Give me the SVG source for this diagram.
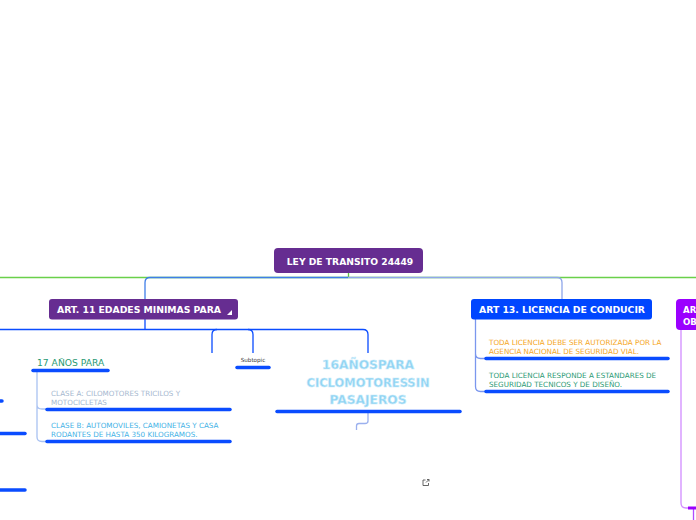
<svg xmlns="http://www.w3.org/2000/svg" width="696" height="520" viewBox="0 0 696 520">
<style>
.node{font-family:"DejaVu Sans",Verdana,sans-serif;font-weight:bold;fill:#fff}
.t{font-family:"DejaVu Sans",Verdana,sans-serif}
.bar{stroke:#0a4cff;stroke-width:3.5;stroke-linecap:round;fill:none}
.ln{fill:none;stroke-width:1.3}
</style>
<rect width="696" height="520" fill="#fff"/>
<g id="connectors">
  <path class="ln" d="M0 277.5 H696" stroke="#6ad04a"/>
  <path class="ln" d="M348.5 273 V277.5" stroke="#5cbf40"/>
  <path class="ln" d="M348 277.5 H150 Q145 277.5 145 282.5 V299" stroke="#3f7ee8"/>
  <path class="ln" d="M348 277.5 H557 Q562 277.5 562 282.5 V299" stroke="#8fa7ea"/>
  <path class="ln" d="M145 319 V329.5" stroke="#0a4cff" stroke-width="2"/>
  <path class="ln" d="M0 329.5 H363 Q368 329.5 368 334.5 V353" stroke="#0a4cff"/>
  <path class="ln" d="M217 329.5 Q212 329.5 212 334.5 V353" stroke="#0a4cff"/>
  <path class="ln" d="M248 329.5 Q253 329.5 253 334.5 V353" stroke="#0a4cff"/>
  <path class="ln" d="M37 372 V437 Q37 441.5 42 441.5 H47 M37 405 Q37 409 42 409 H47" stroke="#a9c2f2"/>
  <path class="ln" d="M475.5 319 V353.5 Q475.5 358.5 480.5 358.5 H486 M475.5 353 V386.5 Q475.5 391.5 480.5 391.5 H486" stroke="#7b97ee"/>
  <path class="ln" d="M368 412 V421 Q368 423.5 365 423.5 H359 Q356.5 423.5 356.5 426 V430" stroke="#9bb0ee"/>
  <path class="ln" d="M681 330 V503 Q681 508 686 508 H690" stroke="#d28cff"/>
  <path class="ln" d="M693.5 508 V520" stroke="#b04cff"/>
  <path d="M688 508 H696" stroke="#9b00ff" stroke-width="3"/>
</g>
<g id="root">
  <rect x="274" y="248" width="149" height="25" rx="4" fill="#662d91"/>
  <text class="node" x="350" y="264.5" font-size="9.2" text-anchor="middle">LEY DE TRANSITO 24449</text>
</g>
<g id="art11">
  <rect x="49" y="299" width="189" height="20.5" rx="3" fill="#662d91"/>
  <text class="node" x="57" y="313" font-size="9.3" textLength="164" lengthAdjust="spacing">ART. 11 EDADES MINIMAS PARA</text>
  <path d="M232 310 V315 H227 Z" fill="#fff"/>
</g>
<g id="art13">
  <rect x="471" y="299" width="181" height="20.5" rx="3" fill="#0046ff"/>
  <text class="node" x="479" y="313" font-size="9.3" textLength="166" lengthAdjust="spacing">ART 13. LICENCIA DE CONDUCIR</text>
</g>
<g id="art-right">
  <rect x="676" y="299" width="30" height="31" rx="4" fill="#9b00ff"/>
  <text class="node" x="683" y="313" font-size="8.6">AR</text>
  <text class="node" x="683" y="325" font-size="8.6">OB</text>
</g>
<g id="anios17">
  <text class="t" x="37" y="366" font-size="9.2" fill="#2a9a74">17 AÑOS PARA</text>
  <path class="bar" d="M33 370.5 H108"/>
</g>
<g id="subtopic">
  <text class="t" x="253" y="362" font-size="5.6" fill="#333" text-anchor="middle">Subtopic</text>
  <path class="bar" d="M237 367.5 H269"/>
</g>
<g id="anios16">
  <g font-family="'DejaVu Sans',Verdana,sans-serif" font-weight="bold" font-size="12.5" fill="#8fd2f2" stroke="#c9ecfb" stroke-width="0.6" text-anchor="middle">
    <text x="368" y="369" textLength="92" lengthAdjust="spacingAndGlyphs">16AÑOSPARA</text>
    <text x="368" y="387" textLength="123" lengthAdjust="spacingAndGlyphs">CICLOMOTORESSIN</text>
    <text x="368" y="404" textLength="77" lengthAdjust="spacingAndGlyphs">PASAJEROS</text>
  </g>
  <path class="bar" d="M277 411.5 H460"/>
</g>
<g id="claseA">
  <text class="t" font-size="7.2" fill="#a6b8cf"><tspan x="51" y="396">CLASE A: CILOMOTORES TRICILOS Y</tspan><tspan x="51" y="404.5">MOTOCICLETAS</tspan></text>
  <path class="bar" d="M47 409.5 H230"/>
</g>
<g id="claseB">
  <text class="t" font-size="7.2" fill="#3fb2e6"><tspan x="51" y="428">CLASE B: AUTOMOVILES, CAMIONETAS Y CASA</tspan><tspan x="51" y="436.5">RODANTES DE HASTA 350 KILOGRAMOS.</tspan></text>
  <path class="bar" d="M47 441.5 H230"/>
</g>
<g id="lic1">
  <text class="t" font-size="7.2" fill="#f5a623"><tspan x="489" y="344.5">TODA LICENCIA DEBE SER AUTORIZADA POR LA</tspan><tspan x="489" y="353.5">AGENCIA NACIONAL DE SEGURIDAD VIAL.</tspan></text>
  <path class="bar" d="M486 358.5 H668"/>
</g>
<g id="lic2">
  <text class="t" font-size="7.2" fill="#2a9a74"><tspan x="489" y="377.5">TODA LICENCIA RESPONDE A ESTANDARES DE</tspan><tspan x="489" y="386.5">SEGURIDAD TECNICOS Y DE DISEÑO.</tspan></text>
  <path class="bar" d="M486 391.5 H668"/>
</g>
<g id="left-bars">
  <path class="bar" d="M-2 401 H2"/>
  <path class="bar" d="M-2 433.5 H25"/>
  <path class="bar" d="M-2 490 H25"/>
</g>
<g id="link-icon" fill="none" stroke="#555" stroke-width="0.9">
  <path d="M425.5 480 H423 V485.5 H428.5 V483"/>
  <path d="M426 482.5 L429 479.5 M427 479.5 H429 V481.5"/>
</g>
</svg>
